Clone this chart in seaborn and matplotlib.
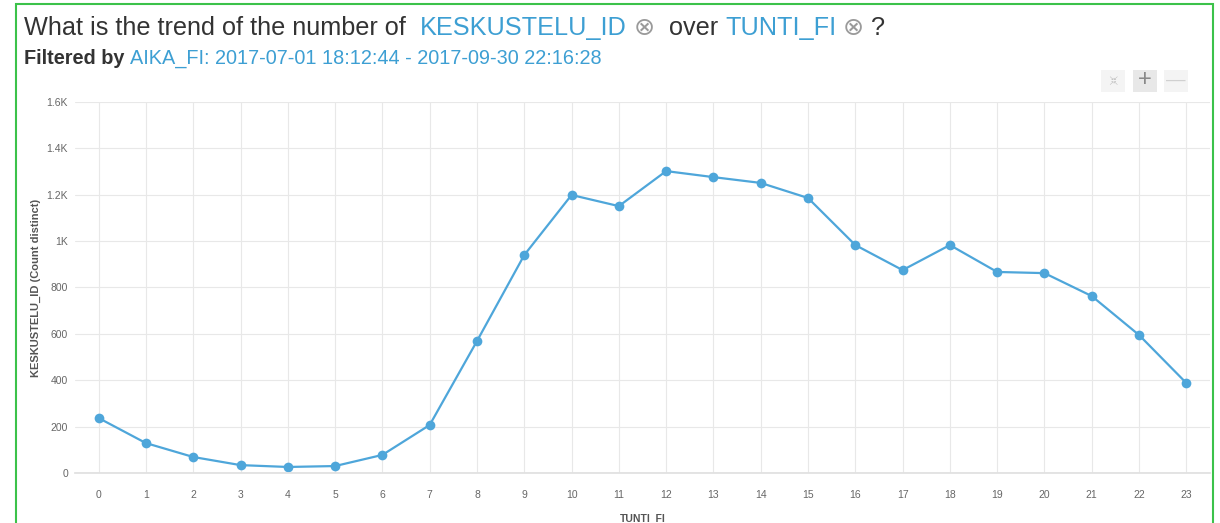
import matplotlib
matplotlib.use("Agg")
import matplotlib.pyplot as plt
import seaborn as sns
import pandas as pd
from matplotlib.patches import Rectangle

hours = list(range(24))
counts = [237, 129, 69, 34, 26, 30, 78, 207, 569, 940, 1199, 1151,
          1302, 1276, 1251, 1186, 983, 875, 983, 867, 862, 763, 595, 388]
yticks = [0, 200, 400, 600, 800, 1000, 1200, 1400, 1600]
ytick_labels = ["0", "200", "400", "600", "800", "1K", "1.2K", "1.4K", "1.6K"]

title_parts = [("What is the trend of the number of  ", "#333333"),
               ("KESKUSTELU_ID", "#3d9fd3"), (" \u2297 ", "#9a9a9a"),
               (" over ", "#333333"), ("TUNTI_FI", "#3d9fd3"),
               (" \u2297 ", "#9a9a9a"), ("?", "#333333")]
sub_parts = [("Filtered by ", "#333333", "bold"),
             ("AIKA_FI: 2017-07-01 18:12:44 - 2017-09-30 22:16:28", "#3d9fd3", "normal")]

df = pd.DataFrame({"TUNTI_FI": hours, "count": counts})

sns.set_theme(style="whitegrid")
plt.rcParams['font.family'] = ['Liberation Sans', 'DejaVu Sans']

W, H = 1220, 523
fig = plt.figure(figsize=(W / 100, H / 100), dpi=100)
ax = fig.add_axes([75 / W, 1 - 473 / H, (1210 - 75) / W, (473 - 102) / H])

line_color = "#4ea6da"
sns.lineplot(data=df, x="TUNTI_FI", y="count", ax=ax, color=line_color,
             marker="o", markersize=7, markeredgewidth=0, linewidth=1.6)

ax.set_xlim(-0.5, 23.5)
ax.set_ylim(0, 1600)
ax.set_xticks(hours)
ax.set_xticklabels([str(h) for h in hours])
ax.set_yticks(yticks)
ax.set_yticklabels(ytick_labels)
ax.tick_params(axis="both", labelsize=7.5, colors="#666666", length=0)
ax.tick_params(axis="x", pad=12)
ax.tick_params(axis="y", pad=5)
ax.grid(True, color="#e8e8e8", linewidth=0.8)
for s in ["top", "right", "left"]:
    ax.spines[s].set_visible(False)
ax.spines["bottom"].set_color("#e0e0e0")
ax.set_xlabel("TUNTI_FI", fontsize=7.5, fontweight="bold", color="#555555", labelpad=10)
ax.set_ylabel("KESKUSTELU_ID (Count distinct)", fontsize=8, fontweight="bold",
              color="#555555", labelpad=4)

# Title pieces
fig.canvas.draw()
renderer = fig.canvas.get_renderer()
x = 24
for txt, col in title_parts:
    t = fig.text(x / W, 1 - 28 / H, txt, fontsize=18.2, color=col, va="center", ha="left")
    bb = t.get_window_extent(renderer)
    x += bb.width
x = 24
for txt, col, wt in sub_parts:
    t = fig.text(x / W, 1 - 59 / H, txt, fontsize=14.3, color=col, va="center",
                 ha="left", fontweight=wt)
    bb = t.get_window_extent(renderer)
    x += bb.width

# top-right control icons
for cx, fc in [(1113, "#f4f4f4"), (1145, "#e8e8e8"), (1176, "#f4f4f4")]:
    fig.patches.append(Rectangle(((cx - 12) / W, 1 - 92 / H), 24 / W, 22 / H,
                                 transform=fig.transFigure, facecolor=fc, edgecolor="none"))
fig.text(1113 / W, 1 - 81 / H, "\u2198\u2199\n\u2197\u2196", fontsize=4.5, color="#bbbbbb",
         ha="center", va="center", family=["DejaVu Sans"], linespacing=1.0)
fig.text(1145 / W, 1 - 80 / H, "+", fontsize=17, color="#888888", ha="center", va="center")
fig.text(1176 / W, 1 - 80 / H, "\u2014", fontsize=14, color="#d0d0d0", ha="center", va="center")

# green frame
fig.patches.append(Rectangle((16 / W, -0.05), (1213 - 16) / W, 1.05 - 4 / H,
                             transform=fig.transFigure, facecolor="none",
                             edgecolor="#3cc24a", linewidth=1.5))

fig.savefig("out.png", dpi=100)
